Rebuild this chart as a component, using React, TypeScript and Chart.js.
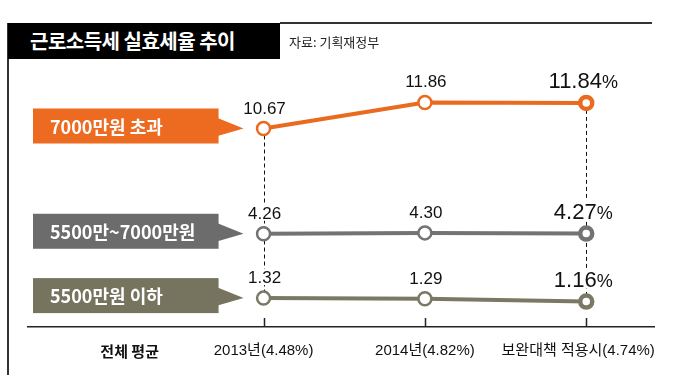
import React, { useEffect, useRef } from 'react';
import { Chart, registerables } from 'chart.js';

Chart.register(...registerables);

// ---- data ----
const averageLabel = '전체 평균';
const periods = ['2013년(4.48%)', '2014년(4.82%)', '보완대책 적용시(4.74%)'];
const seriesNames = ['7000만원 초과', '5500만~7000만원', '5500만원 이하'];
const over7000 = [10.67, 11.86, 11.84];
const mid5500to7000 = [4.26, 4.3, 4.27];
const under5500 = [1.32, 1.29, 1.16];

// ---- styling ----
const lineColors = ['#EA6A1F', '#737373', '#7B7965'];
const boxColors = ['#EC6B21', '#6C6C6C', '#76745F'];
const seriesAxes = ['yHigh', 'yLow', 'yLow'];
const xLabels = [averageLabel, ...periods];
const labelPositions = [-0.83, 0, 1, 1.95];
const latinFont = '"Liberation Sans", "Noto Sans CJK KR", sans-serif';
const krFont = '"Noto Sans CJK KR", "Noto Sans", sans-serif';

const decorPlugin = {
  id: 'decor',
  beforeDatasetsDraw(chart: any) {
    const ctx = chart.ctx;
    const xs = chart.scales.x;
    const topPts = chart.getDatasetMeta(0).data;
    const botPts = chart.getDatasetMeta(chart.data.datasets.length - 1).data;
    ctx.save();
    // dashed connectors
    ctx.strokeStyle = '#111';
    ctx.lineWidth = 1;
    ctx.setLineDash([4, 3]);
    [0, periods.length - 1].forEach((i) => {
      const px = Math.round(topPts[i].x) + 0.5;
      ctx.beginPath();
      ctx.moveTo(px, topPts[i].y);
      ctx.lineTo(px, botPts[i].y);
      ctx.stroke();
    });
    ctx.setLineDash([]);
    // upward tick marks
    ctx.strokeStyle = '#222';
    ctx.lineWidth = 1.5;
    periods.forEach((_, i) => {
      const px = Math.round(xs.getPixelForValue(i)) + 0.5;
      ctx.beginPath();
      ctx.moveTo(px, chart.chartArea.bottom);
      ctx.lineTo(px, chart.chartArea.bottom - 9);
      ctx.stroke();
    });
    // legend boxes with pointers
    chart.data.datasets.forEach((ds: any, d: number) => {
      const p0 = chart.getDatasetMeta(d).data[0];
      const tipX = p0.x - 20;
      const tipY = p0.y;
      const boxR = tipX - 25;
      const boxL = 33;
      const cy = tipY - 2.5;
      const h = 35;
      ctx.fillStyle = boxColors[d];
      ctx.fillRect(boxL, cy - h / 2, boxR - boxL, h);
      ctx.beginPath();
      ctx.moveTo(boxR - 1, cy - 8);
      ctx.lineTo(tipX, tipY);
      ctx.lineTo(boxR - 1, cy + 10);
      ctx.closePath();
      ctx.fill();
      ctx.fillStyle = '#fff';
      ctx.font = `bold 18px ${krFont}`;
      ctx.textBaseline = 'middle';
      ctx.textAlign = 'left';
      ctx.fillText(ds.label, 50, cy + 1);
    });
    ctx.restore();
  },
  afterDatasetsDraw(chart: any) {
    const ctx = chart.ctx;
    ctx.save();
    ctx.textBaseline = 'alphabetic';
    ctx.textAlign = 'left';
    chart.data.datasets.forEach((ds: any, d: number) => {
      const pts = chart.getDatasetMeta(d).data;
      pts.forEach((p: any, i: number) => {
        const v = ds.data[i].y.toFixed(2);
        const by = p.y - 15;
        const last = i === pts.length - 1;
        const bigSize = last ? 22 : 17;
        ctx.font = `${bigSize}px ${latinFont}`;
        const w1 = ctx.measureText(v).width;
        ctx.font = `18px ${latinFont}`;
        const w2 = last ? ctx.measureText('%').width : 0;
        const start = last ? p.x - 3 - (w1 + w2) / 2 : p.x + 1 - w1 / 2;
        const cap = bigSize * 0.73;
        if (d > 0) {
          ctx.fillStyle = '#fff';
          ctx.fillRect(start - 1, by - cap - 2, w1 + w2 + 2, cap + 4);
        }
        ctx.fillStyle = '#111';
        ctx.font = `${bigSize}px ${latinFont}`;
        ctx.fillText(v, start, by);
        if (last) {
          ctx.font = `18px ${latinFont}`;
          ctx.fillText('%', start + w1, by);
        }
      });
    });
    ctx.restore();
  },
};

export default function App() {
  const ref = useRef<HTMLCanvasElement | null>(null);

  useEffect(() => {
    if (!ref.current) return;
    const allSeries = [over7000, mid5500to7000, under5500];
    const chart = new Chart(ref.current, {
      type: 'line',
      data: {
        datasets: allSeries.map((vals, d) => ({
          label: seriesNames[d],
          data: vals.map((v, i) => ({ x: i, y: v })),
          yAxisID: seriesAxes[d],
          borderColor: lineColors[d],
          borderWidth: 4,
          tension: 0,
          pointBackgroundColor: '#fff',
          pointBorderColor: lineColors[d],
          pointRadius: (c: any) => (c.dataIndex === vals.length - 1 ? 6 : 6.5),
          pointBorderWidth: (c: any) => (c.dataIndex === vals.length - 1 ? 4.5 : 2.5),
          pointHoverRadius: 6,
        })),
      },
      options: {
        responsive: false,
        animation: false,
        devicePixelRatio: 1,
        layout: { padding: { left: 28, right: 46, top: 60, bottom: 24 } },
        plugins: { legend: { display: false }, tooltip: { enabled: false }, title: { display: false } },
        scales: {
          x: {
            type: 'linear',
            min: -1.46,
            max: 2.42,
            grid: { display: false },
            border: { display: true, color: '#222', width: 1.5 },
            afterBuildTicks: (s: any) => {
              s.ticks = labelPositions.map((v) => ({ value: v }));
            },
            afterFit: (s: any) => {
              s.height = 40;
            },
            ticks: {
              autoSkip: false,
              maxRotation: 0,
              padding: 7,
              color: '#111',
              font: (c: any) =>
                c.index === 0
                  ? { family: krFont, size: 15, weight: 'bold' }
                  : { family: latinFont, size: 15 },
              callback: (_v: any, i: number) => xLabels[i],
            },
          },
          yHigh: { type: 'linear', display: false, min: 1.6, max: 13.8 },
          yLow: { type: 'linear', display: false, min: 0, max: 12.2 },
        },
      } as any,
      plugins: [decorPlugin],
    });
    return () => chart.destroy();
  }, []);

  return (
    <div style={{ position: 'fixed', left: 0, top: 0, width: 700, height: 391, background: '#fff' }}>
      <canvas ref={ref} width={700} height={391} style={{ position: 'absolute', left: 0, top: 0, display: 'block' }} />
      <div style={{ position: 'absolute', left: 7, top: 23, width: 2, height: 352, background: '#333' }} />
      <div
        style={{
          position: 'absolute',
          left: 8,
          top: 23,
          width: 272,
          height: 36,
          background: '#000',
          color: '#fff',
          fontFamily: krFont,
          fontWeight: 'bold',
          fontSize: 20,
          lineHeight: '36px',
          paddingLeft: 22,
          letterSpacing: -0.5,
          boxSizing: 'border-box',
          whiteSpace: 'nowrap',
        }}
      >
        근로소득세 실효세율 추이
      </div>
      <div style={{ position: 'absolute', left: 280, top: 22, width: 372, height: 2, background: '#333' }} />
      <div
        style={{
          position: 'absolute',
          left: 289,
          top: 24,
          height: 35,
          lineHeight: '35px',
          fontFamily: krFont,
          fontSize: 13,
          color: '#222',
          whiteSpace: 'nowrap',
        }}
      >
        자료: 기획재정부
      </div>
    </div>
  );
}
